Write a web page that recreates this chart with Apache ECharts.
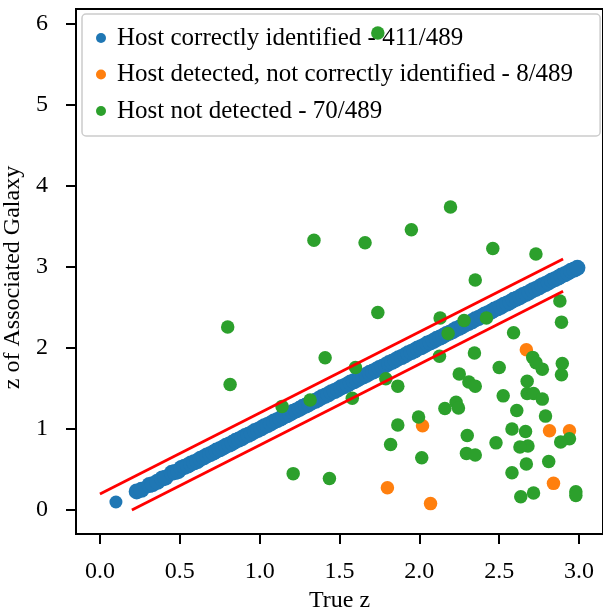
<!DOCTYPE html>
<html lang="en">
<head>
	<meta charset="UTF-8">
	<title>Host identification</title>
	<script src="https://cdn.jsdelivr.net/npm/echarts@6/dist/echarts.min.js"></script>
	<style>
		html, body { margin: 0; padding: 0; background: #fff; }
		#view { width: 603px; height: 611px; }
	</style>
</head>
<body>
	<div id="view"></div>
<script>
	// tick positions
	var xTicks = [0, 0.5, 1.0, 1.5, 2.0, 2.5, 3.0];
	var yTicks = [0, 1, 2, 3, 4, 5, 6];

	var legendNames = [
		'Host correctly identified - 411/489',
		'Host detected, not correctly identified - 8/489',
		'Host not detected - 70/489'
	];

	// [true z, z of associated galaxy]
	var correct = [
		[0.10,0.10],[0.23,0.23],[0.26,0.25],[0.31,0.31],[0.33,0.32],[0.36,0.35],[0.39,0.39],[0.41,0.40],
		[0.45,0.46],[0.47,0.47],[0.49,0.48],[0.51,0.52],
		[0.53,0.535],[0.55,0.55],[0.57,0.575],[0.59,0.59],[0.61,0.605],[0.63,0.635],[0.65,0.65],
		[0.67,0.675],[0.69,0.69],[0.71,0.71],[0.73,0.735],[0.75,0.75],[0.77,0.77],[0.79,0.795],
		[0.81,0.81],[0.83,0.83],[0.85,0.855],[0.87,0.87],[0.89,0.89],[0.91,0.915],[0.93,0.93],
		[0.95,0.95],[0.97,0.975],[0.99,0.99],[1.01,1.01],[1.03,1.035],[1.05,1.05],[1.07,1.07],
		[1.09,1.095],[1.11,1.11],[1.13,1.13],[1.15,1.155],[1.17,1.17],[1.19,1.19],[1.21,1.215],
		[1.23,1.23],[1.25,1.25],[1.27,1.275],[1.29,1.29],[1.31,1.31],[1.33,1.335],[1.35,1.35],
		[1.37,1.37],[1.39,1.395],[1.41,1.41],[1.43,1.43],[1.45,1.455],[1.47,1.47],[1.49,1.49],
		[1.51,1.515],[1.53,1.53],[1.55,1.55],[1.57,1.575],[1.59,1.59],[1.61,1.61],[1.63,1.635],
		[1.65,1.65],[1.67,1.67],[1.69,1.695],[1.71,1.71],[1.73,1.73],[1.75,1.755],[1.77,1.77],
		[1.79,1.79],[1.81,1.815],[1.83,1.83],[1.85,1.85],[1.87,1.875],[1.89,1.89],[1.91,1.91],
		[1.93,1.935],[1.95,1.95],[1.97,1.97],[1.99,1.995],[2.01,2.01],[2.03,2.03],[2.05,2.055],
		[2.07,2.07],[2.09,2.09],[2.11,2.115],[2.13,2.13],[2.15,2.15],[2.17,2.175],[2.19,2.19],
		[2.21,2.21],[2.23,2.235],[2.25,2.25],[2.27,2.27],[2.29,2.295],[2.31,2.31],[2.33,2.33],
		[2.35,2.355],[2.37,2.37],[2.39,2.39],[2.41,2.415],[2.43,2.43],[2.45,2.45],[2.47,2.475],
		[2.49,2.49],[2.51,2.51],[2.53,2.535],[2.55,2.55],[2.57,2.57],[2.59,2.595],[2.61,2.61],
		[2.63,2.63],[2.65,2.655],[2.67,2.67],[2.69,2.69],[2.71,2.715],[2.73,2.73],[2.75,2.75],
		[2.77,2.775],[2.79,2.79],[2.81,2.81],[2.83,2.835],[2.85,2.85],[2.87,2.87],[2.89,2.895],
		[2.91,2.91],[2.93,2.93],[2.95,2.955],[2.97,2.97],[2.99,2.99]
	];

	var wrongHost = [
		[2.67,1.98],[1.80,0.275],[2.02,1.04],[2.815,0.98],[2.94,0.98],[2.84,0.33],[2.07,0.08]
	];

	var notDetected = [
		[1.74,5.89],[2.195,3.74],[1.95,3.46],[1.34,3.33],[1.66,3.30],[2.46,3.23],[2.73,3.16],
		[2.35,2.84],[2.88,2.58],[1.74,2.44],[2.13,2.37],[2.28,2.34],[2.42,2.37],[2.89,2.32],
		[0.80,2.26],[2.18,2.18],[2.59,2.19],[2.126,1.90],[2.345,1.94],[1.41,1.88],[2.71,1.885],
		[2.73,1.82],[2.895,1.81],[1.60,1.76],[2.50,1.76],[2.77,1.74],[2.25,1.68],[2.89,1.67],
		[1.79,1.62],[2.675,1.59],[2.31,1.58],[0.815,1.55],[1.865,1.53],[2.35,1.53],[2.675,1.44],
		[2.715,1.44],[2.525,1.41],[1.58,1.38],[2.77,1.37],[1.316,1.36],[2.23,1.33],[1.14,1.28],
		[2.245,1.26],[2.16,1.255],[2.61,1.23],[2.79,1.16],[1.995,1.15],[1.865,1.05],[2.58,1.00],
		[2.665,0.97],[2.30,0.92],[2.94,0.88],[2.885,0.84],[2.48,0.83],[1.82,0.81],[2.68,0.79],
		[2.63,0.78],[2.295,0.70],[2.35,0.68],[2.015,0.645],[2.81,0.60],[2.67,0.57],[2.58,0.46],
		[1.21,0.45],[1.437,0.39],[2.98,0.225],[2.715,0.21],[2.98,0.18],[2.635,0.165]
	];

	// +/- 0.2 band around the one-to-one line
	var upperLine = [[0.0,0.2],[2.9,3.1]];
	var lowerLine = [[0.2,0.0],[2.9,2.7]];

	var fontName = 'Liberation Serif';

	var view = document.getElementById('view');
	var mychart = echarts.init(view);

	function dots(color) {
		return { color: color, opacity: 1, borderWidth: 0, shadowBlur: 0 };
	}

	var option = {
		animation: false,
		backgroundColor: '#fff',
		textStyle: { fontFamily: fontName, color: '#000' },
		grid: {
			left: 76,
			top: 9,
			width: 527,
			height: 525,
			outerBoundsMode: 'none',
			containLabel: false,
			show: true,
			borderColor: '#000',
			borderWidth: 2,
			backgroundColor: 'transparent'
		},
		legend: {
			data: legendNames,
			orient: 'vertical',
			left: 82,
			top: 14,
			padding: [11, 27, 12, 14],
			itemGap: 10.5,
			itemWidth: 22,
			itemHeight: 10,
			icon: 'circle',
			backgroundColor: 'rgba(255,255,255,0.8)',
			borderColor: '#cccccc',
			borderWidth: 1.5,
			borderRadius: 4,
			textStyle: { fontFamily: fontName, fontSize: 25, color: '#000', lineHeight: 26 }
		},
		xAxis: {
			type: 'value',
			min: -0.15,
			max: 3.15,
			name: 'True z',
			nameLocation: 'middle',
			nameGap: 51,
			nameTextStyle: { fontFamily: fontName, fontSize: 24, color: '#000' },
			splitLine: { show: false },
			axisLine: { show: false, onZero: false },
			axisTick: {
				show: true,
				length: 10,
				lineStyle: { color: '#000', width: 2 },
				customValues: xTicks
			},
			axisLabel: {
				margin: 26,
				fontFamily: fontName,
				fontSize: 24,
				color: '#000',
				customValues: xTicks,
				formatter: function (v) { return v.toFixed(1); }
			}
		},
		yAxis: {
			type: 'value',
			min: -0.295,
			max: 6.185,
			name: 'z of Associated Galaxy',
			nameLocation: 'middle',
			nameGap: 46,
			nameTextStyle: { fontFamily: fontName, fontSize: 24, color: '#000', padding: [0, 12, 0, 0] },
			splitLine: { show: false },
			axisLine: { show: false, onZero: false },
			axisTick: {
				show: true,
				length: 10,
				lineStyle: { color: '#000', width: 2 },
				customValues: yTicks
			},
			axisLabel: {
				margin: 28,
				fontFamily: fontName,
				fontSize: 24,
				color: '#000',
				customValues: yTicks,
				formatter: function (v) { return String(Math.round(v)); }
			}
		},
		series: [
			{
				name: legendNames[0],
				type: 'scatter',
				data: correct,
				symbolSize: function (v) { return v[0] < 0.15 ? 13 : 16; },
				itemStyle: dots('#1f77b4'),
				emphasis: { disabled: true },
				z: 2
			},
			{
				name: legendNames[1],
				type: 'scatter',
				data: wrongHost,
				symbolSize: 13.5,
				itemStyle: dots('#ff7f0e'),
				emphasis: { disabled: true },
				z: 3
			},
			{
				name: legendNames[2],
				type: 'scatter',
				data: notDetected,
				symbolSize: 13.5,
				itemStyle: dots('#2ca02c'),
				emphasis: { disabled: true },
				z: 4
			},
			{
				name: 'upper',
				type: 'line',
				data: upperLine,
				showSymbol: false,
				lineStyle: { color: '#ff0000', width: 2.8 },
				z: 5
			},
			{
				name: 'lower',
				type: 'line',
				data: lowerLine,
				showSymbol: false,
				lineStyle: { color: '#ff0000', width: 2.8 },
				z: 5
			}
		]
	};

	mychart.setOption(option);
</script>
</body>
</html>
